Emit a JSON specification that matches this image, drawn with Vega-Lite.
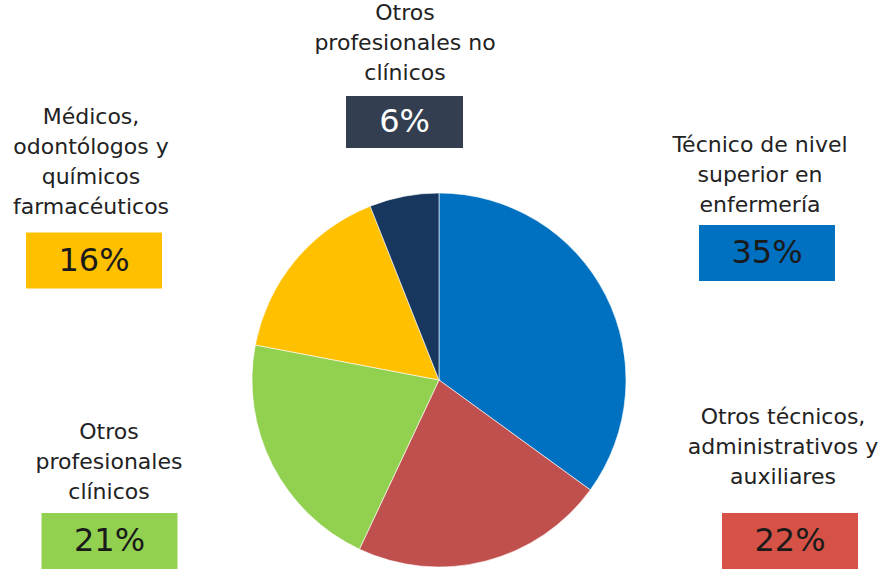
{
  "$schema": "https://vega.github.io/schema/vega-lite/v6.json",
  "width": 878,
  "height": 380,
  "autosize": {"type": "none"},
  "padding": {"top": 190, "left": 0, "right": 0, "bottom": 0},
  "background": "white",
  "config": {"view": {"stroke": null}},
  "data": {
    "values": [
      {"category": "Técnico de nivel superior en enfermería", "pct": 0.35, "label": ["Técnico de nivel", "superior en", "enfermería"]},
      {"category": "Otros técnicos, administrativos y auxiliares", "pct": 0.22, "label": ["Otros técnicos,", "administrativos y", "auxiliares"]},
      {"category": "Otros profesionales clínicos", "pct": 0.21, "label": ["Otros", "profesionales", "clínicos"]},
      {"category": "Médicos, odontólogos y químicos farmacéuticos", "pct": 0.16, "label": ["Médicos,", "odontólogos y", "químicos", "farmacéuticos"]},
      {"category": "Otros profesionales no clínicos", "pct": 0.06, "label": ["Otros", "profesionales no", "clínicos"]}
    ]
  },
  "layer": [
    {
      "mark": {"type": "arc", "radius": 187, "stroke": "#ffffff", "strokeWidth": 0.6},
      "encoding": {
        "theta": {"field": "pct", "type": "quantitative", "stack": true},
        "order": {"field": "pct", "sort": "descending"},
        "color": {
          "field": "category", "type": "nominal", "legend": null,
          "scale": {
            "domain": ["Técnico de nivel superior en enfermería", "Otros técnicos, administrativos y auxiliares", "Otros profesionales clínicos", "Médicos, odontólogos y químicos farmacéuticos", "Otros profesionales no clínicos"],
            "range": ["#0070C0", "#C0504D", "#92D050", "#FFC000", "#17375E"]
          }
        }
      }
    },
    {
      "transform": [{"filter": "datum.pct != 0.06"}],
      "mark": {"type": "point", "shape": "M-1,-0.41176H1V0.41176H-1Z", "size": 18496, "filled": true, "opacity": 1, "strokeWidth": 0},
      "encoding": {
        "x": {"field": "pct", "type": "quantitative", "axis": null, "scale": {"domain": [0.06, 0.16, 0.21, 0.22, 0.35], "range": [404.5, 94, 109.5, 790, 767], "nice": false, "zero": false}},
        "y": {"field": "pct", "type": "quantitative", "axis": null, "scale": {"domain": [0.06, 0.16, 0.21, 0.22, 0.35], "range": [-68, 70.5, 351, 351, 63], "nice": false, "zero": false}},
        "color": {
          "field": "category", "type": "nominal", "legend": null,
          "scale": {
            "domain": ["Técnico de nivel superior en enfermería", "Otros técnicos, administrativos y auxiliares", "Otros profesionales clínicos", "Médicos, odontólogos y químicos farmacéuticos", "Otros profesionales no clínicos"],
            "range": ["#0070C0", "#D65246", "#92D050", "#FFC000", "#333F50"]
          }
        }
      }
    },
    {
      "transform": [{"filter": "datum.pct == 0.06"}],
      "mark": {"type": "point", "shape": "M-1,-0.44444H1V0.44444H-1Z", "size": 13689, "filled": true, "opacity": 1, "strokeWidth": 0, "color": "#333F50"},
      "encoding": {
        "x": {"field": "pct", "type": "quantitative", "axis": null, "scale": {"domain": [0.06, 0.16, 0.21, 0.22, 0.35], "range": [404.5, 94, 109.5, 790, 767], "nice": false, "zero": false}},
        "y": {"field": "pct", "type": "quantitative", "axis": null, "scale": {"domain": [0.06, 0.16, 0.21, 0.22, 0.35], "range": [-68, 70.5, 351, 351, 63], "nice": false, "zero": false}}
      }
    },
    {
      "mark": {"type": "text", "font": "DejaVu Sans", "fontSize": 32, "align": "center", "baseline": "middle"},
      "encoding": {
        "x": {"field": "pct", "type": "quantitative", "axis": null, "scale": {"domain": [0.06, 0.16, 0.21, 0.22, 0.35], "range": [404.5, 94, 109.5, 790, 767], "nice": false, "zero": false}},
        "y": {"field": "pct", "type": "quantitative", "axis": null, "scale": {"domain": [0.06, 0.16, 0.21, 0.22, 0.35], "range": [-68, 70.5, 351, 351, 63], "nice": false, "zero": false}},
        "text": {"field": "pct", "type": "quantitative", "format": ".0%"},
        "color": {"condition": {"test": "datum.pct == 0.06", "value": "#ffffff"}, "value": "#1a1a1a"}
      }
    },
    {
      "mark": {"type": "text", "font": "DejaVu Sans", "fontSize": 22, "align": "center", "baseline": "middle", "lineHeight": 30, "color": "#222222"},
      "encoding": {
        "x": {"field": "pct", "type": "quantitative", "axis": null, "scale": {"domain": [0.06, 0.16, 0.21, 0.22, 0.35], "range": [405, 91, 109, 783, 760], "nice": false, "zero": false}},
        "y": {"field": "pct", "type": "quantitative", "axis": null, "scale": {"domain": [0.06, 0.16, 0.21, 0.22, 0.35], "range": [-177, -73, 242, 227, -45], "nice": false, "zero": false}},
        "text": {"field": "label", "type": "nominal"}
      }
    }
  ],
  "resolve": {"scale": {"x": "independent", "y": "independent", "color": "independent"}}
}
